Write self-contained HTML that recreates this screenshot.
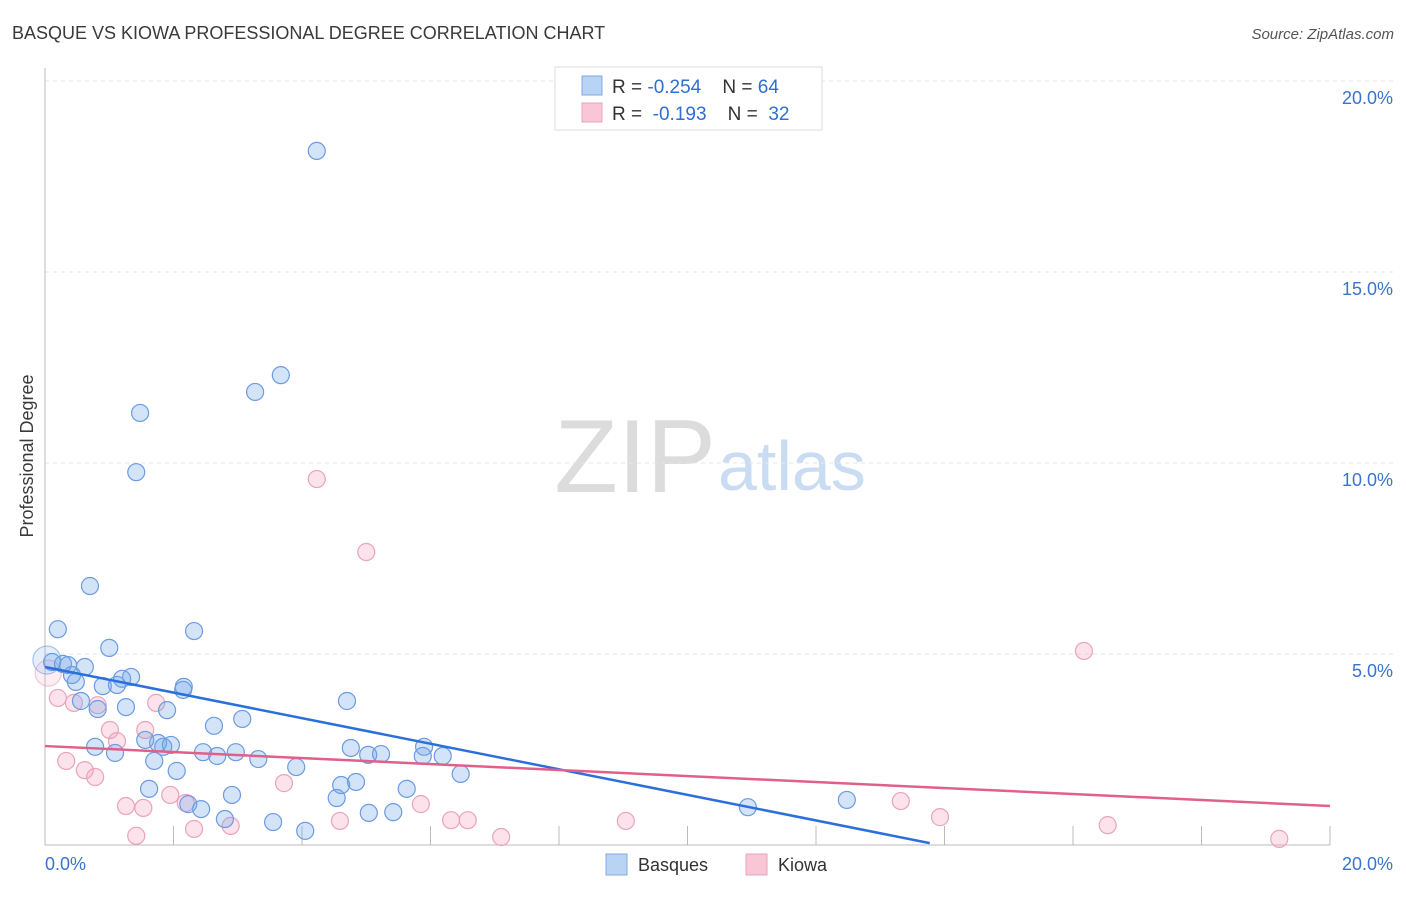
<!DOCTYPE html>
<html><head><meta charset="utf-8"><style>
body{margin:0;background:#fff;font-family:"Liberation Sans",sans-serif}
svg text{font-family:"Liberation Sans",sans-serif}
</style></head><body>
<svg width="1406" height="892" viewBox="0 0 1406 892" xmlns="http://www.w3.org/2000/svg">
<text x="12" y="39" font-size="18" fill="#3a3a3a">BASQUE VS KIOWA PROFESSIONAL DEGREE CORRELATION CHART</text>
<text x="1394" y="39" font-size="15" fill="#555" text-anchor="end" font-style="italic">Source: ZipAtlas.com</text>
<text x="716" y="492" font-size="104" text-anchor="end" fill="#dcdcdc" font-family="Liberation Serif">ZIP</text>
<text x="718" y="490" font-size="70" fill="#c9dcf3">atlas</text>
<g id="grid"></g>
<g id="axes"></g>
<g id="marks"></g>
<text transform="translate(33,456) rotate(-90)" font-size="18" fill="#3a3a3a" text-anchor="middle">Professional Degree</text>
<g>
<rect x="555" y="67" width="267" height="63" fill="#fff" stroke="#ddd"/>
<rect x="582" y="76" width="20" height="19" fill="#b9d3f5" stroke="#7fa9e3"/>
<rect x="582" y="103" width="20" height="19" fill="#f9c6d6" stroke="#eba3bb"/>
<text x="612" y="93" font-size="19" fill="#333" xml:space="preserve" style="white-space:pre">R = <tspan fill="#2f6fd0">-0.254</tspan>    N = <tspan fill="#2f6fd0">64</tspan></text>
<text x="612" y="120" font-size="19" fill="#333" xml:space="preserve" style="white-space:pre">R =  <tspan fill="#2f6fd0">-0.193</tspan>    N =  <tspan fill="#2f6fd0">32</tspan></text>
</g>
<g>
<rect x="606" y="854" width="21" height="21" fill="#b9d3f5" stroke="#7fa9e3"/>
<text x="638" y="871" font-size="18" fill="#333">Basques</text>
<rect x="746" y="854" width="21" height="21" fill="#f9c6d6" stroke="#eba3bb"/>
<text x="778" y="871" font-size="18" fill="#333">Kiowa</text>
</g>
</svg>
<script>
const blueX=[4.23,3.67,3.27,1.48,1.42,0.70,0.20,2.32,1.00,0.03,0.11,0.28,0.36,0.62,0.42,0.48,1.34,1.20,1.12,0.90,2.16,2.15,0.56,0.82,1.26,1.90,4.70,2.63,3.07,1.56,1.76,1.96,1.84,0.78,1.09,2.46,2.68,2.97,3.32,4.76,5.03,5.23,5.90,5.88,6.19,1.70,2.05,3.91,6.47,4.84,4.61,1.62,2.91,5.63,4.54,2.23,2.43,5.04,5.42,2.80,3.55,4.05,10.94,12.48];
const blueY=[18.17,12.30,11.86,11.31,9.76,6.78,5.65,5.60,5.16,4.84,4.79,4.74,4.71,4.66,4.45,4.27,4.40,4.35,4.19,4.16,4.14,4.06,3.77,3.56,3.61,3.53,3.77,3.12,3.30,2.75,2.67,2.62,2.57,2.57,2.41,2.43,2.33,2.43,2.25,2.54,2.36,2.38,2.57,2.33,2.33,2.20,1.94,2.04,1.86,1.65,1.57,1.47,1.31,1.47,1.23,1.07,0.94,0.84,0.86,0.68,0.60,0.37,0.99,1.18];
const pinkX=[4.23,5.00,16.17,0.05,0.20,0.45,1.73,0.82,1.56,1.01,1.12,0.33,0.62,0.78,1.26,1.53,2.19,1.95,3.72,5.85,13.32,13.93,16.54,19.21,6.32,6.58,9.04,4.59,2.89,2.32,1.42,7.10];
const pinkY=[9.58,7.67,5.08,4.50,3.85,3.72,3.72,3.66,3.01,3.01,2.72,2.20,1.96,1.78,1.02,0.97,1.10,1.31,1.62,1.07,1.15,0.73,0.52,0.16,0.65,0.65,0.63,0.63,0.50,0.42,0.24,0.21];
const blueTrend=[[0,4.66],[13.77,0.05]];
const pinkTrend=[[0,2.59],[20,1.02]];
const yTicks=[5,10,15,20];
const yTickLabels=["5.0%","10.0%","15.0%","20.0%"];
const xTicks=[2,4,6,8,10,12,14,16,18,20];
const NS="http://www.w3.org/2000/svg";
const X=v=>45+v*64.25, Y=v=>845-v*38.2;
function mk(p,t,a){const e=document.createElementNS(NS,t);for(const k in a)e.setAttribute(k,a[k]);p.appendChild(e);return e;}
const grid=document.getElementById('grid'),axes=document.getElementById('axes'),marks=document.getElementById('marks');
yTicks.forEach((t,i)=>{
 const l=mk(grid,'line',{x1:45,x2:1393,y1:Y(t),y2:Y(t),stroke:'#e6e6e6','stroke-dasharray':'4,4'});
 
 
 const tx=mk(axes,'text',{x:1393,y:Y(t)+23,'font-size':18,fill:'#3b73cc','text-anchor':'end'});
 tx.textContent=yTickLabels[i];
 
 
});
mk(axes,'line',{x1:45,x2:45,y1:68,y2:845,stroke:'#bbb'});
mk(axes,'line',{x1:45,x2:1330,y1:845,y2:845,stroke:'#bbb'});
xTicks.forEach(t=>{
 const l=mk(axes,'line',{x1:X(t),x2:X(t),y1:826,y2:845,stroke:'#bbb'});
 
 
});
const x0=mk(axes,'text',{x:45,y:870,'font-size':18,fill:'#3b73cc'});x0.textContent='0.0%';


const x1=mk(axes,'text',{x:1393,y:870,'font-size':18,fill:'#3b73cc','text-anchor':'end'});x1.textContent='20.0%';


function pts(xs,ys,fill,stroke,name,bigIdx,bigR){
 xs.forEach((x,i)=>{
  const big=i===bigIdx;
  const c=mk(marks,'circle',{cx:X(x),cy:Y(ys[i]),r:big?bigR:8.5,fill:fill,stroke:stroke,'stroke-width':1.2,'opacity':big?0.6:1});
  
  
 });
}
pts(pinkX,pinkY,'rgba(244,160,188,0.3)','#eba3bb','kiowa-point',3,13);
pts(blueX,blueY,'rgba(110,165,235,0.3)','#6c9be0','basques-point',9,14);
const bl=mk(marks,'line',{x1:X(blueTrend[0][0]),y1:Y(blueTrend[0][1]),x2:X(blueTrend[1][0]),y2:Y(blueTrend[1][1]),stroke:'#2a6fdb','stroke-width':2.5});


const pl=mk(marks,'line',{x1:X(pinkTrend[0][0]),y1:Y(pinkTrend[0][1]),x2:X(pinkTrend[1][0]),y2:Y(pinkTrend[1][1]),stroke:'#e0608a','stroke-width':2.5});


</script>
</body></html>
